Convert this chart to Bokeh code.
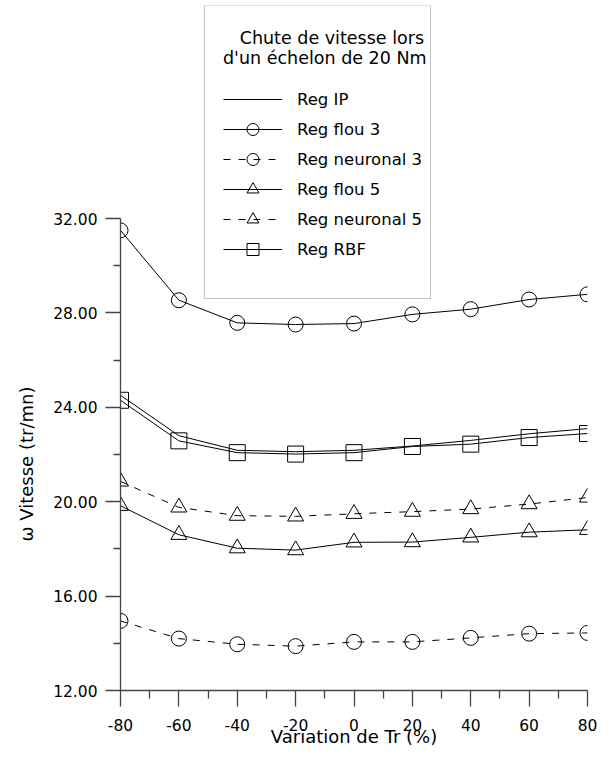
from bokeh.plotting import figure
from bokeh.models import (Range1d, LinearAxis, Legend, LegendItem, FixedTicker,
                          PrintfTickFormatter, Title, BoxAnnotation)
from bokeh.embed import file_html
from bokeh.resources import INLINE

# Data
variation = [-80, -60, -40, -20, 0, 20, 40, 60, 80]
reg_ip = [24.51, 22.80, 22.18, 22.12, 22.18, 22.36, 22.60, 22.88, 23.10]
reg_flou3 = [31.50, 28.54, 27.58, 27.51, 27.55, 27.94, 28.16, 28.57, 28.79]
reg_neuronal3 = [14.95, 14.20, 13.96, 13.88, 14.06, 14.06, 14.23, 14.41, 14.44]
reg_flou5 = [19.83, 18.60, 18.03, 17.95, 18.28, 18.29, 18.49, 18.71, 18.81]
reg_neuronal5 = [20.86, 19.76, 19.41, 19.38, 19.49, 19.58, 19.69, 19.90, 20.18]
reg_rbf = [24.30, 22.58, 22.08, 22.02, 22.08, 22.34, 22.44, 22.72, 22.89]

x_ticks = [-80, -60, -40, -20, 0, 20, 40, 60, 80]
x_minor = [-70, -50, -30, -10, 10, 30, 50, 70]
y_ticks = [12, 16, 20, 24, 28, 32]
y_minor = [14, 18, 22, 26, 30]

FONT = "DejaVu Sans"
AX = "#444444"

p = figure(width=601, height=750, output_backend="svg", toolbar_location=None,
           x_range=Range1d(-80, 80), y_range=Range1d(12, 41.03),
           x_axis_type=None, y_axis_type=None,
           min_border_left=120, min_border_right=14, min_border_top=5, min_border_bottom=60)
p.outline_line_color = None
p.background_fill_color = "white"

xaxis = LinearAxis(ticker=FixedTicker(ticks=x_ticks, minor_ticks=x_minor), bounds=(-80, 80),
                   formatter=PrintfTickFormatter(format="%d"),
                   axis_label="Variation de Tr (%)")
yaxis = LinearAxis(ticker=FixedTicker(ticks=y_ticks, minor_ticks=y_minor), bounds=(12, 32),
                   formatter=PrintfTickFormatter(format="%.2f"))
for ax in (xaxis, yaxis):
    ax.axis_line_color = AX
    ax.axis_line_width = 1.3
    ax.major_tick_line_color = AX
    ax.minor_tick_line_color = AX
    ax.major_tick_line_width = 1.3
    ax.minor_tick_line_width = 1.3
    ax.major_tick_in = 0
    ax.minor_tick_in = 0
    ax.major_label_text_font = FONT
    ax.major_label_text_font_size = "15.5px"
    ax.major_label_text_color = "black"
    ax.axis_label_text_font = FONT
    ax.axis_label_text_font_size = "18px"
    ax.axis_label_text_font_style = "normal"
    ax.axis_label_text_color = "black"
xaxis.major_tick_out = 16
xaxis.minor_tick_out = 8
xaxis.major_label_standoff = 12
xaxis.axis_label_standoff = -8
yaxis.major_tick_out = 15
yaxis.minor_tick_out = 7
yaxis.major_label_standoff = 8
p.add_layout(xaxis, "below")
p.add_layout(yaxis, "left")

# y-axis title, placed along the drawn part of the axis
ytitle = Title(text="\u03c9 Vitesse (tr/mn)", align="left", vertical_align="top",
               offset=149, standoff=24,
               text_font=FONT, text_font_size="18px", text_font_style="normal",
               text_color="black")
p.add_layout(ytitle, "left")

lk = dict(line_color="black", line_width=1)
mk = dict(line_color="black", line_width=1, fill_alpha=0)
DASH = "7 8"

r_ip = p.line(variation, reg_ip, **lk)

r_f3l = p.line(variation, reg_flou3, **lk)
r_f3m = p.scatter(variation, reg_flou3, marker="circle", size=15, **mk)

r_n3l = p.line(variation, reg_neuronal3, line_dash=DASH, **lk)
r_n3m = p.scatter(variation, reg_neuronal3, marker="circle", size=15, **mk)

r_f5l = p.line(variation, reg_flou5, **lk)
r_f5m = p.scatter(variation, reg_flou5, marker="triangle", size=16, **mk)

r_n5l = p.line(variation, reg_neuronal5, line_dash=DASH, **lk)
r_n5m = p.scatter(variation, reg_neuronal5, marker="triangle", size=16, **mk)

r_rbl = p.line(variation, reg_rbf, **lk)
r_rbm = p.scatter(variation, reg_rbf, marker="square", size=16, **mk)

# legend frame
box = BoxAnnotation(left=84, right=310, top=685, bottom=392,
                    left_units="screen", right_units="screen",
                    top_units="screen", bottom_units="screen",
                    fill_color="white", fill_alpha=1,
                    line_color="#333333", line_width=1)
p.add_layout(box)

NB = "\u00a0"
legend = Legend(items=[
    LegendItem(label="Reg IP", renderers=[r_ip]),
    LegendItem(label="Reg flou 3", renderers=[r_f3l, r_f3m]),
    LegendItem(label="Reg neuronal 3", renderers=[r_n3l, r_n3m]),
    LegendItem(label="Reg flou 5", renderers=[r_f5l, r_f5m]),
    LegendItem(label="Reg neuronal 5", renderers=[r_n5l, r_n5m]),
    LegendItem(label="Reg RBF", renderers=[r_rbl, r_rbm]),
], location=(103, 426), title=NB * 3 + "Chute de vitesse lors\nd'un \u00e9chelon de 20 Nm")
legend.border_line_color = None
legend.background_fill_alpha = 0
legend.padding = 19
legend.spacing = 0
legend.label_height = 30
legend.glyph_height = 30
legend.glyph_width = 59
legend.label_standoff = 15
legend.label_text_font = FONT
legend.label_text_font_size = "16.5px"
legend.label_text_color = "black"
legend.title_text_font = FONT
legend.title_text_font_size = "17.5px"
legend.title_text_font_style = "normal"
legend.title_text_color = "black"
legend.title_standoff = 16
legend.margin = 0
p.add_layout(legend)

open("out.html", "w").write(file_html(p, INLINE))
